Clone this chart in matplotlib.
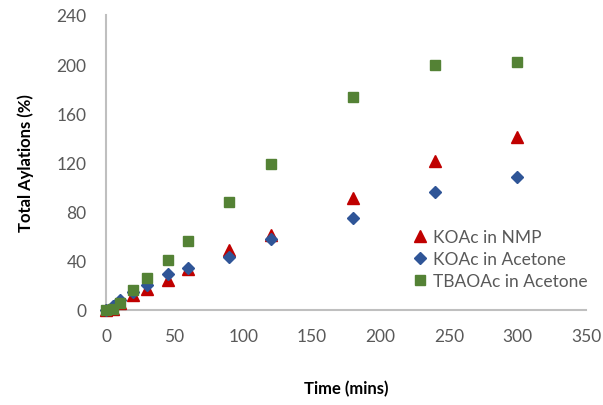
import matplotlib
matplotlib.use("Agg")
import matplotlib.pyplot as plt

time_min = [0, 5, 10, 20, 30, 45, 60, 90, 120, 180, 240, 300]
koac_nmp = [0, 1, 6, 12, 17, 24, 33, 49, 61, 91, 121, 141]
koac_acetone = [0, 3, 8, 15, 20, 29, 34, 43, 58, 75, 96, 108]
tbaoac_acetone = [0, 1, 6, 16, 26, 41, 56, 88, 119, 173, 199, 202]

x_ticks = [0, 50, 100, 150, 200, 250, 300, 350]
y_ticks = [0, 40, 80, 120, 160, 200, 240]

plt.rcParams['font.family'] = ['Lato', 'DejaVu Sans']

fig = plt.figure(figsize=(6.03, 4.06), dpi=100)
ax = fig.add_axes([0.1758, 0.234, 0.796, 0.7266])

ax.plot(time_min, koac_nmp, linestyle='none', marker='^', markersize=8,
        color='#C00000', label='KOAc in NMP', clip_on=False, zorder=3)
ax.plot(time_min, koac_acetone, linestyle='none', marker='D', markersize=6,
        color='#2F5597', label='KOAc in Acetone', clip_on=False, zorder=3)
ax.plot(time_min, tbaoac_acetone, linestyle='none', marker='s', markersize=7.5,
        color='#548235', label='TBAOAc in Acetone', clip_on=False, zorder=3)

ax.set_xlim(0, 350)
ax.set_ylim(0, 240)
ax.set_xticks(x_ticks)
ax.set_yticks(y_ticks)
ax.tick_params(axis='both', length=0, labelsize=12.5, labelcolor='#595959')
ax.tick_params(axis='y', pad=14)
ax.tick_params(axis='x', pad=13)
for s in ['top', 'right']:
    ax.spines[s].set_visible(False)
for s in ['left', 'bottom']:
    ax.spines[s].set_color('#BFBFBF')
    ax.spines[s].set_linewidth(1.5)

ax.set_xlabel('Time (mins)', fontsize=12, fontweight='bold', labelpad=26)
ax.set_ylabel('Total Aylations (%)', fontsize=12, fontweight='bold', labelpad=16)

leg = ax.legend(loc='upper left', bbox_to_anchor=(0.619, 0.298), frameon=False,
                fontsize=12.5, handletextpad=0.1, labelspacing=0.35,
                handlelength=1.2, borderaxespad=0)
for t in leg.get_texts():
    t.set_color('#595959')

fig.savefig('out.png', dpi=100)
